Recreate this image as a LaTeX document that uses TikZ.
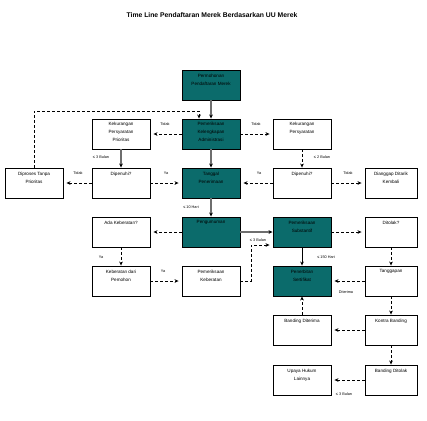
\documentclass[tikz,border=0pt]{standalone}
\usepackage{fontspec}
\setmainfont{Liberation Sans}
\usetikzlibrary{arrows.meta}
\definecolor{tealbox}{HTML}{0B6B6B}
\definecolor{solidgray}{HTML}{6E6E6E}
\tikzset{
  box/.style={draw=black, line width=0.9pt, minimum width=58pt, minimum height=30pt, inner sep=0pt, fill=white},
  boxE/.style={box, minimum width=52pt},
  tbox/.style={box, fill=tealbox},
  txt/.style={font=\fontsize{4.6}{8}\selectfont, align=center, anchor=north, inner sep=0pt},
  lbl/.style={font=\fontsize{3.8}{4.5}\selectfont, inner sep=0pt},
  dline/.style={draw=black, line width=0.8pt, dash pattern=on 3pt off 2pt, -{Stealth[length=4pt,width=3.6pt]}, shorten >=3pt},
  sline/.style={draw=solidgray, line width=1.3pt, -{Stealth[length=4pt,width=3.6pt,color=black]}},
  bline/.style={draw=black, line width=0.9pt, -{Stealth[length=4pt,width=3.6pt]}}
}
\begin{document}
\begin{tikzpicture}[x=1pt,y=-1pt]
\useasboundingbox (0,0) rectangle (427,420);
\node[font=\bfseries\fontsize{6.8}{8}\selectfont, inner sep=0pt] (title) at (212,15) {Time Line Pendaftaran Merek Berdasarkan UU Merek};

% boxes
\node[tbox] (perm) at (211,85) {};
\node[txt] (permt) at ([yshift=-4pt]perm.north) {Permohonan\\Pendaftaran Merek};
\node[tbox] (admin) at (211,134) {};
\node[txt] (admint) at ([yshift=-3pt]admin.north) {Pemeriksaan\\Kelengkapan\\Administrasi};
\node[tbox] (tgl) at (211,183) {};
\node[txt] (tglt) at ([yshift=-4pt]tgl.north) {Tanggal\\Penerimaan};
\node[tbox] (peng) at (211,232) {};
\node[txt] (pengt) at ([yshift=-4pt]peng.north) {Pengumuman};

\node[box] (kpp) at (121,134) {};
\node[txt] (kppt) at ([yshift=-3pt]kpp.north) {Kekurangan\\Persyaratan\\Prioritas};
\node[box] (dipB) at (121,183) {};
\node[txt] (dipBt) at ([yshift=-4pt]dipB.north) {Dipenuhi?};
\node[box] (dipro) at (34,183) {};
\node[txt] (diprot) at ([yshift=-4pt]dipro.north) {Diproses Tanpa\\Prioritas};
\node[box] (ada) at (121,232) {};
\node[txt] (adat) at ([yshift=-4pt]ada.north) {Ada Keberatan?};
\node[box] (kebpem) at (121,281) {};
\node[txt] (kebpemt) at ([yshift=-4pt]kebpem.north) {Keberatan dari\\Pemohon};
\node[box] (pemkeb) at (211,281) {};
\node[txt] (pemkebt) at ([yshift=-4pt]pemkeb.north) {Pemeriksaan\\Keberatan};

\node[box] (kp) at (302,134) {};
\node[txt] (kpt) at ([yshift=-3pt]kp.north) {Kekurangan\\Persyaratan};
\node[box] (dipD) at (302,183) {};
\node[txt] (dipDt) at ([yshift=-4pt]dipD.north) {Dipenuhi?};
\node[tbox] (subs) at (302,232) {};
\node[txt] (subst) at ([yshift=-4pt]subs.north) {Pemeriksaan\\Substantif};
\node[tbox] (sert) at (302,281) {};
\node[txt] (sertt) at ([yshift=-4pt]sert.north) {Penerbitan\\Sertifikat};
\node[box] (bdter) at (302,330) {};
\node[txt] (bdtert) at ([yshift=-4pt]bdter.north) {Banding Diterima};
\node[box] (upaya) at (302,380) {};
\node[txt] (upayat) at ([yshift=-4pt]upaya.north) {Upaya Hukum\\Lainnya};

\node[boxE] (dtk) at (391,183) {};
\node[txt] (dtkt) at ([yshift=-4pt]dtk.north) {Dianggap Ditarik\\Kembali};
\node[boxE] (ditolak) at (391,232) {};
\node[txt] (ditolakt) at ([yshift=-4pt]ditolak.north) {Ditolak?};
\node[boxE] (tangg) at (391,281) {};
\node[txt] (tanggt) at ([yshift=-4pt]tangg.north) {Tanggapan};
\node[boxE] (kontra) at (391,330) {};
\node[txt] (kontrat) at ([yshift=-4pt]kontra.north) {Kontra Banding};
\node[boxE] (bdtol) at (391,380) {};
\node[txt] (bdtolt) at ([yshift=-4pt]bdtol.north) {Banding Ditolak};

% coordinates
\coordinate (c1) at (199,111);
\coordinate (c2) at (251,245);

% solid connectors
\draw[sline] (perm) -- (admin);
\draw[sline] (admin) -- (tgl);
\draw[sline] (tgl) -- (peng);
\draw[sline] (kpp) -- (dipB);
\draw[sline] (peng) -- (subs);
\draw[bline] (subs) -- (sert);

% dashed connectors
\draw[dline, shorten >=0pt] (dipro.north) |- (c1) -- (c1 |- admin.north);
\draw[dline] (admin) -- (kpp);
\draw[dline] (admin) -- (kp);
\draw[dline] (dipB) -- (dipro);
\draw[dline] (dipB) -- (tgl);
\draw[dline, shorten >=0pt] (kp) -- (dipD);
\draw[dline] (dipD) -- (tgl);
\draw[dline] (dipD) -- (dtk);
\draw[dline] (peng) -- (ada);
\draw[dline, shorten >=0pt] (ada) -- (kebpem);
\draw[dline] (kebpem) -- (pemkeb);
\draw[dline] (pemkeb.east) -| (c2) -- (c2 -| subs.west);
\draw[dline] (subs) -- (ditolak);
\draw[dline, shorten >=0pt] (ditolak) -- (tangg);
\draw[dline] (tangg) -- (sert);
\draw[dline, shorten >=0pt] (tangg) -- (kontra);
\draw[dline] (kontra) -- (bdter);
\draw[dline, shorten >=0pt] (bdter) -- (sert);
\draw[dline, shorten >=0pt] (kontra) -- (bdtol);
\draw[dline] (bdtol) -- (upaya);

% labels
\node[lbl] (l1) at (165,124) {Tidak};
\node[lbl] (l2) at (256,124) {Tidak};
\node[lbl] (l3) at (101,157) {≤ 3 Bulan};
\node[lbl] (l4) at (78,173) {Tidak};
\node[lbl] (l5) at (166,173) {Ya};
\node[lbl] (l6) at (322,157) {≤ 2 Bulan};
\node[lbl] (l7) at (259,173) {Ya};
\node[lbl] (l8) at (348,173) {Tidak};
\node[lbl] (l9) at (191,207) {≤ 10 Hari};
\node[lbl] (l10) at (101,257) {Ya};
\node[lbl] (l11) at (163,271) {Ya};
\node[lbl] (l12) at (258,240) {≤ 3 Bulan};
\node[lbl] (l13) at (326,257) {≤ 150 Hari};
\node[lbl] (l14) at (346,292) {Diterima};
\node[lbl] (l15) at (344,394) {≤ 3 Bulan};
\end{tikzpicture}
\end{document}
